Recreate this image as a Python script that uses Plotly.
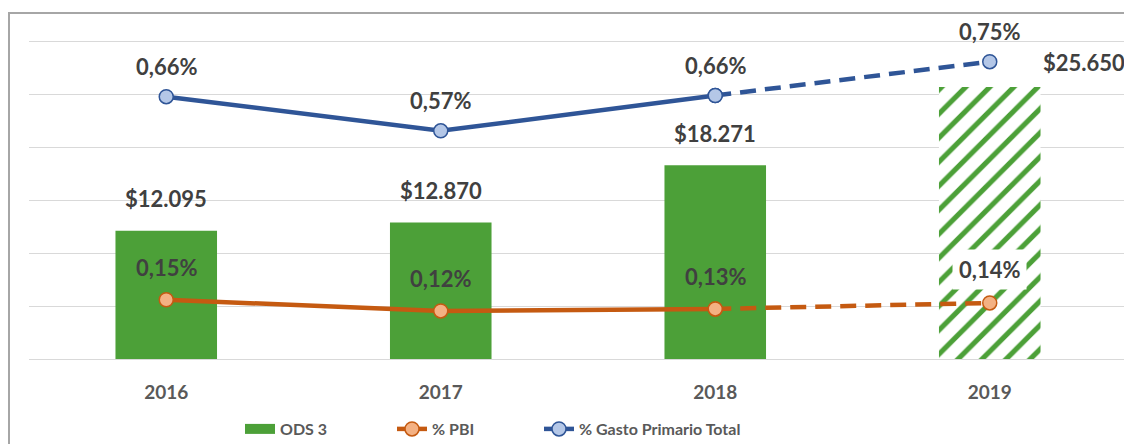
import plotly.graph_objects as go

years = ["2016", "2017", "2018", "2019"]
ods3 = [12095, 12870, 18271, 25650]
pbi = [0.149, 0.121, 0.126, 0.141]
gasto = [0.660, 0.574, 0.663, 0.748]
bar_labels = ["$12.095", "$12.870", "$18.271", "$25.650"]

GREEN = "#4CA038"
BLUE = "#2F5597"
BLUE_FILL = "#B4C7E7"
ORANGE = "#C55A11"
ORANGE_FILL = "#F4B183"
FONT = "Lato"
LABEL_C = "#404040"
AXIS_C = "#595959"

# figure is placed by the page at an 8px body offset
W, H = 1124, 436
ML, MR, MT, MB = 21, 5, 30, 85
PW = W - ML - MR
PH = H - MT - MB
GRID_H = 318  # pixel height from baseline to top gridline
TOP_FACTOR = PH / GRID_H


def px_x(page_x):
    return (page_x - 8 - ML) / PW


def px_y(page_y):
    return (H - MB - (page_y - 8)) / PH


def pct(v):
    return f"{v:.2f}".replace(".", ",") + "%"


fig = go.Figure()

fig.add_trace(go.Bar(
    x=years, y=ods3, name="ODS 3", showlegend=False,
    marker=dict(color=GREEN, line=dict(width=0),
                pattern=dict(shape=["", "", "", "/"], fgcolor=GREEN, bgcolor="white",
                             size=17, solidity=0.3, fillmode="replace")),
    yaxis="y",
))

# legend swatch for bars (wide rectangle like the original)
fig.add_trace(go.Scatter(x=[years[0]], y=[None], mode="lines", name="ODS 3",
                         line=dict(color=GREEN, width=12), legend="legend", yaxis="y"))

mk_o = dict(size=14, color=ORANGE_FILL, line=dict(color=ORANGE, width=1.5))
mk_b = dict(size=14, color=BLUE_FILL, line=dict(color=BLUE, width=1.5))

# dashed projections (drawn first so solid markers stay on top)
fig.add_trace(go.Scatter(
    x=years[2:], y=pbi[2:], mode="lines+markers", showlegend=False, yaxis="y2",
    line=dict(color=ORANGE, width=4.5, dash="16px,9px"), marker=mk_o,
))
fig.add_trace(go.Scatter(
    x=years[2:], y=gasto[2:], mode="lines+markers", showlegend=False, yaxis="y2",
    line=dict(color=BLUE, width=4.5, dash="16px,9px"), marker=mk_b,
))
fig.add_trace(go.Scatter(
    x=years[:3], y=pbi[:3], mode="lines+markers", name="% PBI", yaxis="y2", legend="legend2",
    line=dict(color=ORANGE, width=4.5), marker=mk_o,
))
fig.add_trace(go.Scatter(
    x=years[:3], y=gasto[:3], mode="lines+markers", name="% Gasto Primario Total", yaxis="y2",
    legend="legend3", line=dict(color=BLUE, width=4.5), marker=mk_b,
))

ann = []
lab_font = dict(family=FONT, size=22, color=LABEL_C, weight="bold")
for i in range(len(years)):
    if i < 3:
        ann.append(dict(x=i, y=ods3[i], xref="x", yref="y", text=bar_labels[i],
                        showarrow=False, yshift=32, font=lab_font))
    else:
        ann.append(dict(x=i, y=ods3[i], xref="x", yref="y", text=bar_labels[i],
                        showarrow=False, yshift=25, xshift=94, font=lab_font))
    ann.append(dict(x=i, y=gasto[i], xref="x", yref="y2", text=pct(gasto[i]),
                    showarrow=False, yshift=30, font=lab_font))
    if i < 3:
        ann.append(dict(x=i, y=pbi[i], xref="x", yref="y2", text=pct(pbi[i]),
                        showarrow=False, yshift=32, font=lab_font))
    else:
        ann.append(dict(x=i, y=pbi[i], xref="x", yref="y2", text=pct(pbi[i]),
                        showarrow=False, yshift=33, font=lab_font, bgcolor="white",
                        borderpad=6))

leg_font = dict(family=FONT, size=16, color=AXIS_C, weight="bold")


def leg(page_x):
    return dict(orientation="h", x=px_x(page_x), xanchor="left", y=px_y(429),
                yanchor="middle", font=leg_font, bgcolor="rgba(0,0,0,0)")


fig.update_layout(
    width=W, height=H,
    margin=dict(l=ML, r=MR, t=MT, b=MB, autoexpand=False),
    paper_bgcolor="white", plot_bgcolor="white",
    font=dict(family=FONT, color=AXIS_C),
    bargap=0.63,
    annotations=ann,
    xaxis=dict(type="category", categoryorder="array", categoryarray=years,
               range=[-0.5, 3.5], autorange=False,
               showgrid=False, showline=False, zeroline=False,
               ticks="outside", ticklen=16, tickcolor="rgba(0,0,0,0)",
               tickfont=dict(family=FONT, size=19, color=AXIS_C, weight="bold")),
    yaxis=dict(range=[0, 30000 * TOP_FACTOR], dtick=5000, showgrid=True,
               gridcolor="#D9D9D9", gridwidth=1,
               zeroline=True, zerolinecolor="#D9D9D9", zerolinewidth=1,
               showticklabels=False, ticks=""),
    yaxis2=dict(range=[0, 0.8 * TOP_FACTOR], overlaying="y", side="right", showgrid=False,
                zeroline=False, showticklabels=False, ticks=""),
    legend=leg(240),
    legend2=leg(392),
    legend3=leg(539),
    shapes=[dict(type="rect", xref="paper", yref="paper",
                 x0=px_x(9), x1=px_x(1150),
                 y0=px_y(470), y1=px_y(13),
                 line=dict(color="#A6A6A6", width=2), fillcolor="rgba(0,0,0,0)", layer="below")],
)

fig.write_html("out.html")
